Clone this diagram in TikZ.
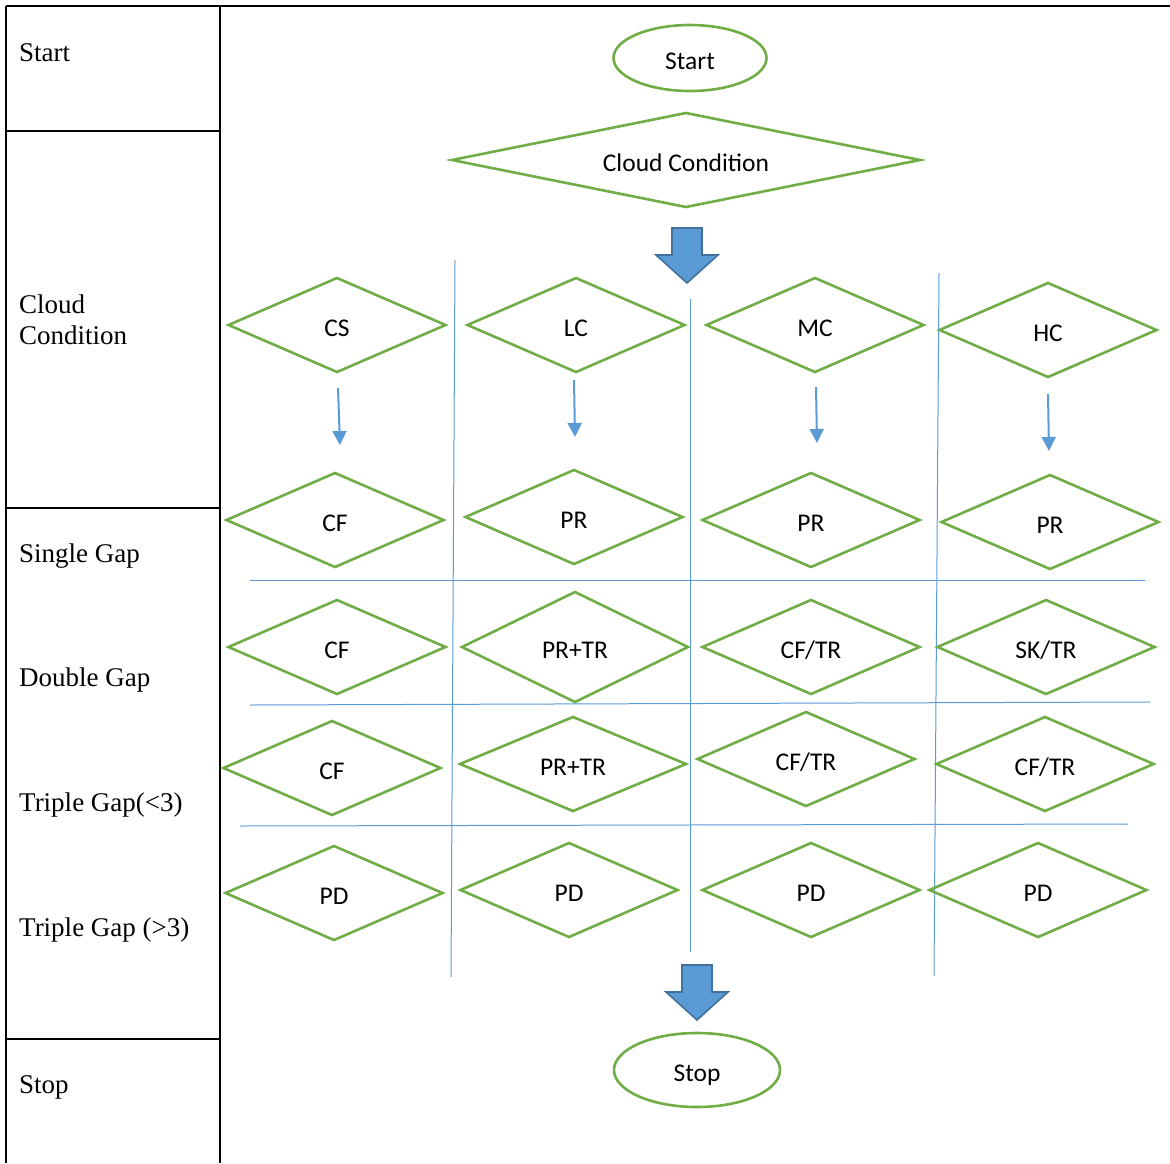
\documentclass[tikz,border=0pt]{standalone}
\usepackage{fontspec}
\setmainfont{Liberation Serif}
\newfontfamily\carl{Carlito}
\usetikzlibrary{shapes.geometric,arrows.meta}
\definecolor{gr}{HTML}{70AD47}
\definecolor{bl}{HTML}{5B9BD5}
\definecolor{bld}{HTML}{41719C}
\tikzset{
  tbl/.style={line width=1.6pt, black},
  side/.style={anchor=west, inner sep=0pt, font=\fontsize{27}{31}\selectfont, align=left},
  dia/.style={diamond, aspect=2.3, draw=gr, line width=2.6pt, minimum width=217pt, minimum height=94pt, inner sep=0pt, outer sep=0pt, text height=23pt, text depth=0pt, font=\carl\fontsize{25.5}{28}\selectfont},
  oval/.style={ellipse, draw=gr, line width=2.6pt, inner sep=0pt, text height=23pt, text depth=0pt, font=\carl\fontsize{25.5}{28}\selectfont},
  grid/.style={bl, line width=1pt},
  small/.style={bl, line width=2pt, -{Triangle[length=14pt,width=14pt]}},
  bigarrowstyle/.style={fill=bl, draw=bld, line width=1.6pt, line join=miter},
  bigarrow/.pic={\path[bigarrowstyle] (-15,-55)--(15,-55)--(15,-28)--(31,-28)--(0,0)--(-31,-28)--(-15,-28)--cycle;}
}
\begin{document}
\begin{tikzpicture}[x=1pt,y=-1pt]
\useasboundingbox (0,0) rectangle (1170,1163);
% table
\draw[tbl] (6,6) -- (1170,6);
\draw[tbl] (6,6) -- (6,1163);
\draw[tbl] (220,6) -- (220,1163);
\draw[tbl] (6,131) -- (220,131);
\draw[tbl] (6,508) -- (220,508);
\draw[tbl] (6,1039) -- (220,1039);
\node[side] (lstart) at (19,53) {Start};
\node[side] (lcloud) at (19,320) {Cloud\\Condition};
\node[side] (lsingle) at (19,556) {Single Gap};
\node[side] (ldouble) at (19,680) {Double Gap};
\node[side] (ltriple) at (19,805) {Triple Gap(<3)};
\node[side] (ltriple2) at (19,930) {Triple Gap (>3)};
\node[side] (lstop) at (19,1087) {Stop};
% grid lines
\draw[grid] (455,260) -- (451,977);
\draw[grid] (690,299) -- (690,952);
\draw[grid] (939,273) -- (934,976);
\draw[grid] (250,580) -- (1145,580);
\draw[grid] (250,705) -- (1150,702);
\draw[grid] (240,826) -- (1128,824);
% top
\node[oval, minimum width=153pt, minimum height=66pt] (start) at (690,58) {Start};
\node[dia, aspect=5, minimum width=468pt] (cloud) at (686,160) {Cloud Condition};
\pic at (687,283) {bigarrow};
% row 1
\node[dia] (cs) at (337,325) {CS};
\node[dia] (lc) at (576,325) {LC};
\node[dia] (mc) at (815,325) {MC};
\node[dia] (hc) at (1048,330) {HC};
% row 2
\node[dia] (cf1) at (335,520) {CF};
\node[dia] (pr1) at (574,517) {PR};
\node[dia] (pr2) at (811,520) {PR};
\node[dia] (pr3) at (1050,522) {PR};
% small arrows
\coordinate (a1s) at (338,388); \coordinate (a1e) at (340,445);
\coordinate (a2s) at (574,380); \coordinate (a2e) at (575,437);
\coordinate (a3s) at (816,387); \coordinate (a3e) at (817,443);
\coordinate (a4s) at (1048,394); \coordinate (a4e) at (1049,451);
\draw[small] (a1s) -- (a1e);
\draw[small] (a2s) -- (a2e);
\draw[small] (a3s) -- (a3e);
\draw[small] (a4s) -- (a4e);
% row 3
\node[dia] (cf2) at (337,647) {CF};
\node[dia, minimum width=226pt, minimum height=110pt] (prtr1) at (575,647) {PR+TR};
\node[dia] (cftr1) at (811,647) {CF/TR};
\node[dia] (sktr) at (1046,647) {SK/TR};
% row 4
\node[dia] (cf3) at (332,768) {CF};
\node[dia, minimum width=226pt] (prtr2) at (573,764) {PR+TR};
\node[dia] (cftr2) at (806,759) {CF/TR};
\node[dia] (cftr3) at (1045,764) {CF/TR};
% row 5
\node[dia] (pd1) at (334,893) {PD};
\node[dia] (pd2) at (569,890) {PD};
\node[dia] (pd3) at (811,890) {PD};
\node[dia] (pd4) at (1038,890) {PD};
% bottom
\pic at (697,1020) {bigarrow};
\node[oval, minimum width=166pt, minimum height=74pt] (stop) at (697,1070) {Stop};
\end{tikzpicture}
\end{document}
